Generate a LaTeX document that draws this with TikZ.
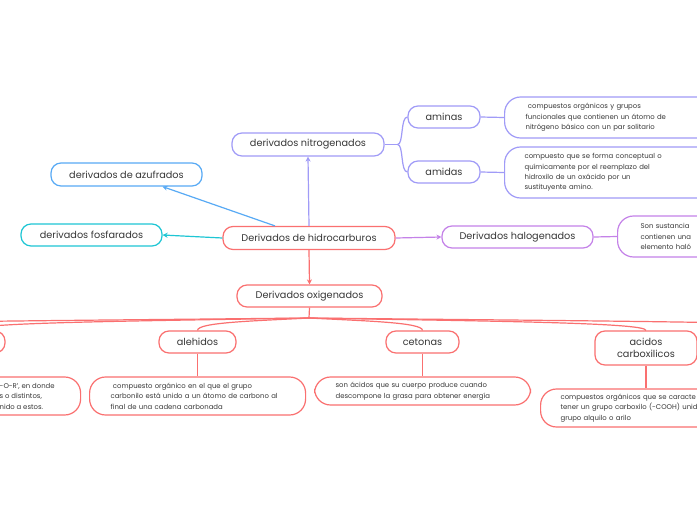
\documentclass[tikz,border=0pt]{standalone}
\usepackage{fontspec}
\setmainfont{Poppins}
\usepackage{tikz}
\usetikzlibrary{positioning,arrows.meta,calc}
\definecolor{rootred}{RGB}{250,112,112}
\definecolor{nitroblue}{RGB}{160,155,247}
\definecolor{azufblue}{RGB}{88,170,245}
\definecolor{fosfcyan}{RGB}{30,198,212}
\definecolor{halopurple}{RGB}{196,130,232}
\definecolor{textgray}{RGB}{55,55,55}
\tikzset{
  mapbox/.style={draw, rounded corners=10pt, line width=1.2pt, fill=white,
    text=textgray, font=\fontsize{9.7}{12}\selectfont, inner sep=2pt, align=center},
  descbox/.style={draw, rounded corners=16pt, line width=1.2pt, fill=white,
    text=textgray, align=left, font=\fontsize{6.9}{10.5}\selectfont,
    inner xsep=21pt, inner ysep=2pt, anchor=west},
  maplink/.style={line width=1.2pt},
  maparrow/.style={maplink, -{Stealth[length=5pt,width=5pt]}},
}

\begin{document}
\begin{tikzpicture}[x=1pt, y=-1pt,
    topic/.style={mapbox, minimum height=22pt, minimum width=#1},
    desctext/.style={text=textgray, align=left, font=\fontsize{6.9}{10.5}\selectfont, inner sep=0pt}]
  \useasboundingbox (0,0) rectangle (697,520);
  \clip (0,0) rectangle (697,520);
  \fill[white] (0,0) rectangle (697,520);

  % central topic and main branches
  \node[topic=172pt, draw=rootred, minimum height=23pt] (root) at (309,238) {Derivados de hidrocarburos};
  \node[topic=152pt, draw=nitroblue, minimum height=23pt] (nitro) at (308,144.5) {derivados nitrogenados};
  \node[topic=151pt, draw=azufblue, minimum height=23pt] (azuf) at (126.5,174.5) {derivados de azufrados};
  \node[topic=141pt, draw=fosfcyan] (fosf) at (91.5,235) {derivados fosfarados};
  \node[topic=151pt, draw=halopurple] (halo) at (517.5,237) {Derivados halogenados};
  \node[topic=145pt, draw=rootred] (oxig) at (309.5,296) {Derivados oxigenados};

  \draw[maparrow, nitroblue] (root.north) -- (nitro.south);
  \draw[maparrow, azufblue] ([xshift=-34pt]root.north) -- ([xshift=36pt]azuf.south);
  \draw[maparrow, fosfcyan] (root.west) -- (fosf.east);
  \draw[maparrow, halopurple] (root.east) -- (halo.west);
  \draw[maparrow, rootred] (root.south) -- (oxig.north);

  % nitrogenados
  \node[topic=72pt, draw=nitroblue] (aminas) at (444,117) {aminas};
  \node[topic=72pt, draw=nitroblue] (amidas) at (444,172) {amidas};
  \node[descbox, draw=nitroblue, minimum width=216pt, minimum height=41pt, text width=200pt] (aminasdesc) at (504,117.5)
    {\ compuestos orgánicos y grupos\\funcionales que contienen un átomo de\\nitrógeno básico con un par solitario};
  \node[descbox, draw=nitroblue, minimum width=216pt, minimum height=51pt, text width=200pt, inner xsep=20pt] (amidasdesc) at (504,172.5)
    {compuesto que se forma conceptual o\\químicamente por el reemplazo del\\hidroxilo de un oxácido por un\\sustituyente amino.};
  \draw[maplink, nitroblue] (nitro.east) -- ++(13,0) coordinate (nitrofork);
  \foreach \kid in {aminas, amidas}
    \draw[maplink, nitroblue] (nitrofork) .. controls +(6,0) and +(-7,0) .. (\kid.west);
  \draw[maplink, nitroblue] (aminas.east) -- (aminasdesc.west);
  \draw[maplink, nitroblue] (amidas.east) -- (amidasdesc.west);

  % halogenados
  \node[descbox, draw=halopurple, minimum width=150pt, minimum height=41pt, text width=120pt, inner xsep=23pt] (halodesc) at (617,236.5)
    {Son sustancia\\contienen una\\elemento haló};
  \draw[maplink, halopurple] (halo.east) -- (halodesc.west);

  % oxigenados
  \node[topic=72pt, draw=rootred] (farleft) at (-260,342) {};
  \node[topic=72pt, draw=rootred] (eteres) at (-31,342) {};
  \node[topic=77pt, draw=rootred] (alehidos) at (197.5,342) {alehidos};
  \node[topic=73pt, draw=rootred] (cetonas) at (422.5,342) {cetonas};
  \node[topic=102pt, draw=rootred, minimum height=34pt] (acidos) at (646,348) {acidos\\carboxilicos};
  \node[topic=102pt, draw=rootred] (farright) at (875,342) {};
  \coordinate (fork) at (309,318);
  \draw[maplink, rootred] (oxig.south) -- (fork);
  \foreach \kid in {farleft, eteres, alehidos, cetonas, acidos, farright}
    \draw[maplink, rootred] (fork) .. controls ($(fork)!0.5!(\kid.north |- fork)+(0,3)$) and ($(\kid.north)+(0,-8)$) .. (\kid.north);

  \node[descbox, draw=rootred, minimum width=216pt, minimum height=38pt, text width=174pt] (eteresdesc) at (-136,396) {};
  \node[desctext, anchor=west] (eterestext) at (-0.5,396) {-O-R', en donde\\s o distintos,\\nido a estos.};
  \node[descbox, draw=rootred, minimum width=216pt, minimum height=38pt, text width=174pt] (alehidosdesc) at (89,396)
    {\ compuesto orgánico en el que el grupo\\carbonilo está unido a un átomo de carbono al\\final de una cadena carbonada};
  \node[descbox, draw=rootred, minimum width=216pt, minimum height=28pt, text width=174pt] (cetonasdesc) at (314,391)
    {son ácidos que su cuerpo produce cuando\\descompone la grasa para obtener energía};
  \node[descbox, draw=rootred, minimum width=216pt, minimum height=38pt, text width=176pt, inner xsep=20pt] (acidosdesc) at (540,408)
    {compuestos orgánicos que se caracte\\tener un grupo carboxilo (-COOH) unid\\grupo alquilo o arilo};
  \foreach \kid in {eteres, alehidos, cetonas, acidos}
    \draw[maplink, rootred] (\kid.south) -- (\kid.south |- \kid desc.north);
\end{tikzpicture}
\end{document}
